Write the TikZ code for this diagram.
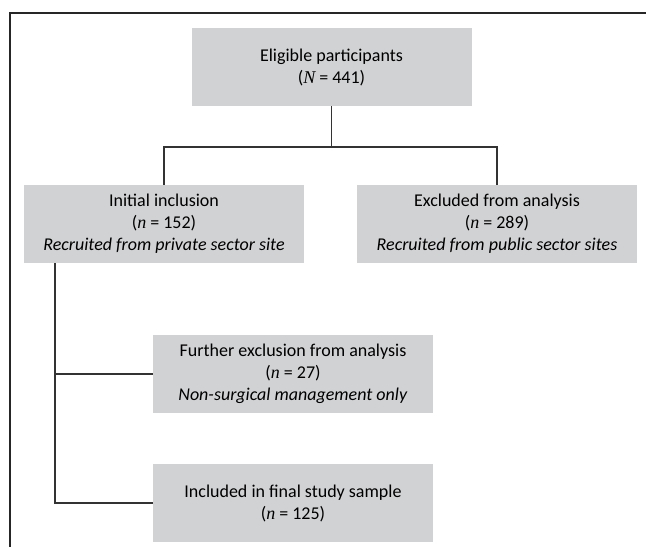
\documentclass[tikz,border=0pt]{standalone}
\usepackage{fontspec}
\setmainfont{Carlito}
\newfontfamily\tnrfont{Liberation Serif}
\newcommand{\statvar}[1]{{\tnrfont\itshape #1}}
\usepackage{tikz}
\usepackage{xcolor}
\definecolor{boxgray}{HTML}{D1D2D4}

\begin{document}
\begin{tikzpicture}[x=0.75pt,y=-0.75pt,
		flowbox/.style={fill=boxgray,minimum width=210pt,minimum height=58.5pt,align=center,inner sep=0pt,
			font=\fontsize{13.5}{16.5}\selectfont},
		link/.style={draw=black!80,line width=0.8pt}]
		\useasboundingbox (0,0) rectangle (646,547);
		\begin{scope}
			\node[flowbox] (eligible) at (331.5,67) {Eligible participants\\(\statvar{N} = 441)};
			\node[flowbox] (initial) at (164,224) {Initial inclusion\\(\statvar{n} = 152)\\\textit{Recruited from private sector site}};
			\node[flowbox] (excluded) at (497,224) {Excluded from analysis\\(\statvar{n} = 289)\\\textit{Recruited from public sector sites}};
			\node[flowbox] (further) at (293,374) {Further exclusion from analysis\\(\statvar{n} = 27)\\\textit{Non-surgical management only}};
			\node[flowbox] (final) at (293,503) {Included in final study sample\\(\statvar{n} = 125)};
			\coordinate (split) at (331.5,147);
			\coordinate (trunk) at (55,263);
			\draw[link] (eligible.south) -- (split);
			\draw[link] (initial.north) |- (split) -| (excluded.north);
			\draw[link] (trunk) |- (final.west);
			\draw[link] (trunk |- further.west) -- (further.west);
			% frame
			\draw[black!85,line width=1pt] (646,13) -- (10,13) -- (10,547);
		\end{scope}
	\end{tikzpicture}
\end{document}
